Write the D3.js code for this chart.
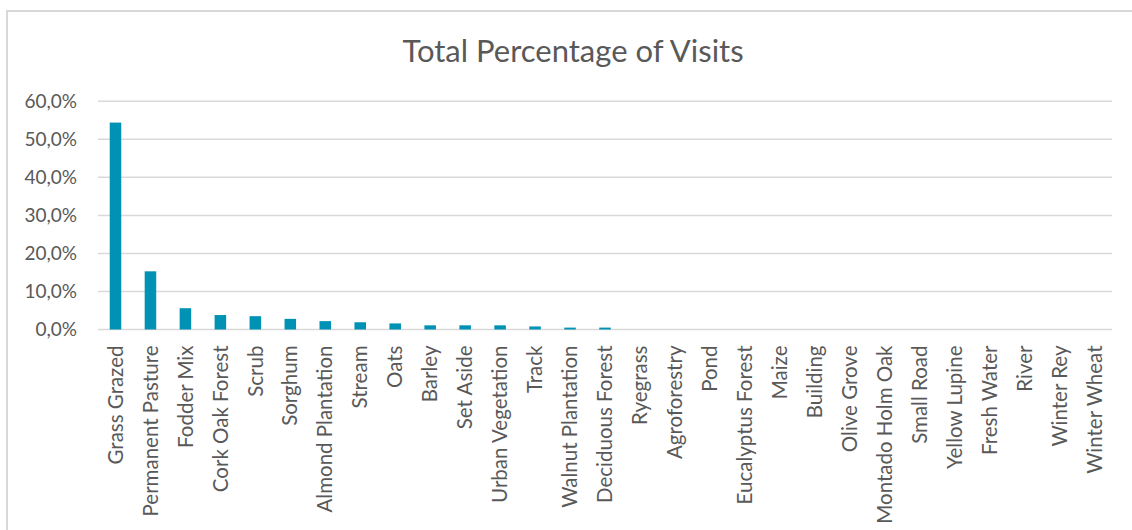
<!DOCTYPE html>
<html><head><meta charset="utf-8">
<script src="https://cdn.jsdelivr.net/npm/d3@7/dist/d3.min.js"></script>
<style>
html,body{margin:0;padding:0;background:#fff;}
svg{display:block;font-family:Lato,"Open Sans",sans-serif;}
</style></head>
<body><svg id="c" width="1132" height="530"></svg>
<script>
const categories = ["Grass Grazed","Permanent Pasture","Fodder Mix","Cork Oak Forest","Scrub","Sorghum","Almond Plantation","Stream","Oats","Barley","Set Aside","Urban Vegetation","Track","Walnut Plantation","Deciduous Forest","Ryegrass","Agroforestry","Pond","Eucalyptus Forest","Maize","Building","Olive Grove","Montado Holm Oak","Small Road","Yellow Lupine","Fresh Water","River","Winter Rey","Winter Wheat"];
const values = [54.4,15.3,5.6,3.8,3.5,2.8,2.2,1.9,1.6,1.1,1.1,1.1,0.8,0.5,0.5,0,0,0,0,0,0,0,0,0,0,0,0,0,0];
const yTicks = [0,10,20,30,40,50,60];
const title = "Total Percentage of Visits";

const svg = d3.select("#c");
const mLeft = 98, mRight = 1112, mTop = 101.3, mBottom = 329.5;

svg.append("rect").attr("x",7).attr("y",11).attr("width",1140).attr("height",540)
  .attr("fill","none").attr("stroke","#d9d9d9").attr("stroke-width",2);

const x = d3.scaleBand().domain(categories).range([mLeft,mRight]).paddingInner(0.67).paddingOuter(0.335);
const y = d3.scaleLinear().domain([0,60]).range([mBottom,mTop]);

svg.append("text").attr("x",573).attr("y",62).attr("text-anchor","middle")
  .attr("font-size",31).attr("fill","#595959").text(title);

const grid = svg.append("g");
grid.selectAll("line").data(yTicks).join("line")
  .attr("x1",mLeft).attr("x2",mRight).attr("y1",d=>y(d)).attr("y2",d=>y(d))
  .attr("stroke","#d9d9d9").attr("stroke-width",1.5);

const yAxis = svg.append("g").attr("transform",`translate(${mLeft},0)`)
  .call(d3.axisLeft(y).tickValues(yTicks).tickSize(0).tickPadding(21).tickFormat(d=>d.toFixed(1).replace(".",",")+"%"));
yAxis.select(".domain").remove();
yAxis.selectAll("text").attr("font-size",19).attr("fill","#595959").attr("font-family","Lato");

svg.append("g").selectAll("rect").data(values).join("rect")
  .attr("x",(d,i)=>x(categories[i])).attr("width",x.bandwidth())
  .attr("y",d=>y(d)).attr("height",d=>y(0)-y(d)).attr("fill","#0092b4");

const xAxis = svg.append("g").attr("transform",`translate(0,${mBottom})`)
  .call(d3.axisBottom(x).tickSize(0).tickPadding(0));
xAxis.select(".domain").remove();
xAxis.selectAll("text").attr("font-size",20.5).attr("fill","#595959").attr("font-family","Lato")
  .attr("text-anchor","end").attr("transform","rotate(-90)")
  .attr("x",-16).attr("y",0).attr("dy","0.35em");
</script></body></html>
